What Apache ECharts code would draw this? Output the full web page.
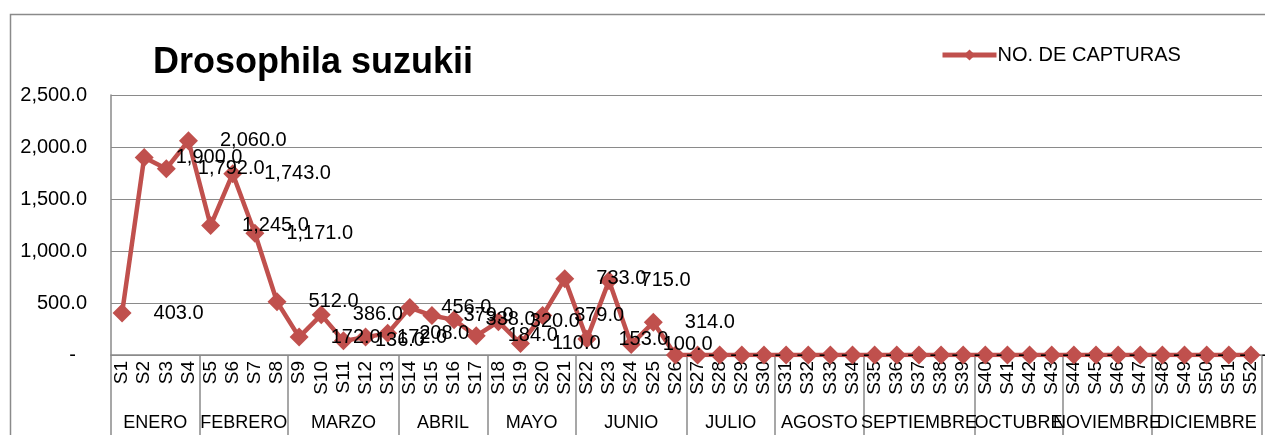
<!DOCTYPE html>
<html>
<head>
    <meta http-equiv="Content-Type" content="text/html; charset=utf-8" />
    <script type="text/javascript" src="https://cdn.jsdelivr.net/npm/echarts@6/dist/echarts.min.js"></script>
    <title>Drosophila suzukii</title>
    <style>
        html, body { margin: 0; padding: 0; background: #fff; }
        #chart { width: 1265px; height: 435px; }
    </style>
</head>
<body>
    <div id="chart"></div>
</body>
</html>
<script type="text/javascript">
// semanas
var weeks = ['S1', 'S2', 'S3', 'S4', 'S5', 'S6', 'S7', 'S8', 'S9', 'S10', 'S11', 'S12', 'S13',
    'S14', 'S15', 'S16', 'S17', 'S18', 'S19', 'S20', 'S21', 'S22', 'S23', 'S24', 'S25', 'S26',
    'S27', 'S28', 'S29', 'S30', 'S31', 'S32', 'S33', 'S34', 'S35', 'S36', 'S37', 'S38', 'S39',
    'S40', 'S41', 'S42', 'S43', 'S44', 'S45', 'S46', 'S47', 'S48', 'S49', 'S50', 'S51', 'S52'];

// meses y numero de semanas de cada uno
var months = ['ENERO', 'FEBRERO', 'MARZO', 'ABRIL', 'MAYO', 'JUNIO', 'JULIO', 'AGOSTO',
    'SEPTIEMBRE', 'OCTUBRE', 'NOVIEMBRE', 'DICIEMBRE'];
var monthWeeks = [4, 4, 5, 4, 4, 5, 4, 4, 5, 4, 4, 5];

// no. de capturas por semana
var captures = [403, 1900, 1792, 2060, 1245, 1743, 1171, 512, 172, 386, 136, 172, 208,
    456, 379, 338, 184, 320, 110, 379, 733, 153, 715, 100, 314, 0,
    0, 0, 0, 0, 0, 0, 0, 0, 0, 0, 0, 0, 0,
    0, 0, 0, 0, 0, 0, 0, 0, 0, 0, 0, 0, 0];

var red = '#C0504D';
var gray = '#8a8a8a';

function fmt(v) {
    if (v === 0) return '-';
    return v.toLocaleString('en-US', { minimumFractionDigits: 1, maximumFractionDigits: 1 });
}

// eje de meses: medias semanas, para poder centrar el nombre y marcar los limites
var monthAxis = [];
var bounds = {};
for (var i = 0; i <= weeks.length * 2; i++) monthAxis.push('');
var pos = 0;
bounds[0] = true;
for (var m = 0; m < months.length; m++) {
    monthAxis[pos * 2 + monthWeeks[m]] = months[m];
    pos += monthWeeks[m];
    bounds[pos * 2] = true;
}

// los ceros llevan el guion pegado al rombo
var seriesData = captures.map(function (v) {
    if (v === 0) return { value: v, label: { distance: 1 } };
    return v;
});

var myChart = echarts.init(document.getElementById('chart'));
myChart.setOption({
    animation: false,
    textStyle: { fontFamily: 'Liberation Sans, Arial, sans-serif' },
    title: {
        text: 'Drosophila suzukii',
        left: 148,
        top: 40,
        textStyle: { fontSize: 36, fontWeight: 'bold', color: '#000' }
    },
    legend: {
        left: 935,
        top: 40,
        itemWidth: 54,
        itemHeight: 14,
        itemGap: 0,
        lineStyle: { width: 5, color: red },
        textStyle: { fontSize: 20, color: '#000', padding: [0, 0, 0, -4] },
        data: ['NO. DE CAPTURAS']
    },
    graphic: [{
        type: 'rect',
        left: 8,
        top: 12,
        shape: { width: 1300, height: 500 },
        style: { fill: 'none', stroke: gray, lineWidth: 1.5 },
        silent: true
    }],
    grid: {
        left: 111,
        right: 0,
        top: 95,
        bottom: 80
    },
    xAxis: [{
        type: 'category',
        data: weeks,
        position: 'bottom',
        boundaryGap: true,
        axisLine: { lineStyle: { color: gray, width: 1.5 } },
        axisTick: { show: false },
        axisLabel: { interval: 0, rotate: 90, margin: 6, fontSize: 19, color: '#000' }
    }, {
        type: 'category',
        data: monthAxis,
        position: 'bottom',
        boundaryGap: false,
        axisLine: { show: false },
        axisTick: {
            show: true,
            length: 82,
            interval: function (idx) { return !!bounds[idx]; },
            lineStyle: { color: gray, width: 1.5 }
        },
        axisLabel: { interval: 0, margin: 59, fontSize: 18, color: '#000' },
        splitLine: { show: false }
    }],
    yAxis: {
        type: 'value',
        min: 0,
        max: 2500,
        interval: 500,
        axisLine: { show: true, lineStyle: { color: gray, width: 1.5 } },
        axisTick: { show: false },
        splitLine: { lineStyle: { color: gray, width: 1.2 } },
        axisLabel: {
            margin: 24,
            fontSize: 20,
            color: '#000',
            formatter: function (v) { return v === 0 ? '-  ' : fmt(v); }
        }
    },
    series: [{
        name: 'NO. DE CAPTURAS',
        type: 'line',
        data: seriesData,
        symbol: 'diamond',
        symbolSize: 19,
        color: red,
        lineStyle: { color: red, width: 4.5 },
        itemStyle: { color: red },
        label: {
            show: true,
            position: 'right',
            distance: 22,
            fontSize: 20,
            color: '#000',
            formatter: function (p) { return fmt(p.value); }
        }
    }]
});
</script>
